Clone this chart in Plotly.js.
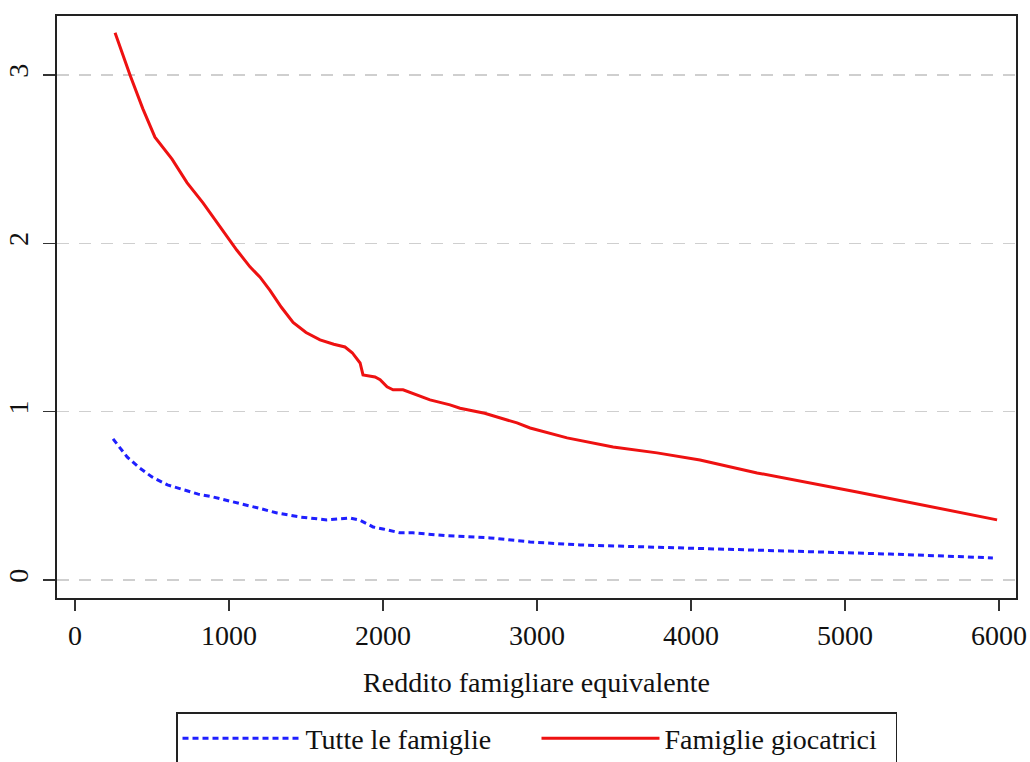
<!DOCTYPE html>
<html>
<head>
<meta charset="utf-8">
<script src="https://cdn.plot.ly/plotly-3.0.1.min.js"></script>
<style>html,body{margin:0;padding:0;background:#fff;}#chart{width:1030px;height:762px;}
.legendtext{font-family:"Liberation Serif", serif !important;}</style>
</head>
<body>
<div id="chart"></div>
<script>
// Tutte le famiglie (blue dashed)
const tutteX = [247, 338, 420, 500, 600, 701, 800, 896, 1000, 1117, 1200, 1312, 1461, 1636, 1786, 1850, 1935, 2000, 2110, 2195, 2416, 2695, 2955, 3279, 3714, 4039, 4643, 5292, 5960];
const tutteY = [0.838, 0.731, 0.665, 0.612, 0.565, 0.535, 0.51, 0.493, 0.47, 0.446, 0.425, 0.398, 0.374, 0.357, 0.368, 0.355, 0.315, 0.303, 0.28, 0.28, 0.263, 0.25, 0.226, 0.208, 0.196, 0.19, 0.172, 0.154, 0.131];
// Famiglie giocatrici (red solid)
const giocX = [260, 357, 440, 519, 630, 727, 831, 961, 1050, 1136, 1200, 1266, 1340, 1416, 1500, 1591, 1680, 1753, 1800, 1851, 1870, 1948, 1981, 2026, 2065, 2130, 2221, 2305, 2435, 2500, 2660, 2870, 2955, 3084, 3195, 3494, 3779, 4058, 4429, 5078, 5506, 5987];
const giocY = [3.25, 3.00, 2.80, 2.63, 2.50, 2.36, 2.24, 2.07, 1.96, 1.86, 1.80, 1.72, 1.62, 1.53, 1.47, 1.426, 1.40, 1.384, 1.35, 1.289, 1.218, 1.206, 1.19, 1.147, 1.13, 1.13, 1.099, 1.07, 1.04, 1.02, 0.99, 0.933, 0.903, 0.873, 0.844, 0.79, 0.755, 0.713, 0.636, 0.523, 0.446, 0.357];

const xTicks = [0, 1000, 2000, 3000, 4000, 5000, 6000];
const yTicks = [0, 1, 2, 3];
const names = ["Tutte le famiglie", "Famiglie giocatrici"];
const xTitle = "Reddito famigliare equivalente";

const fontFam = "Liberation Serif";

const traces = [
  {x: tutteX, y: tutteY, name: names[0], type: "scatter", mode: "lines",
   line: {color: "#1f1fff", width: 3, dash: "6px,4px"}},
  {x: giocX, y: giocY, name: names[1], type: "scatter", mode: "lines",
   line: {color: "#ee1111", width: 3}}
];

const layout = {
  width: 1030, height: 762,
  paper_bgcolor: "#fff", plot_bgcolor: "#fff",
  margin: {l: 57, r: 14, t: 16, b: 164, autoexpand: false},
  font: {family: fontFam, size: 28, color: "#111"},
  showlegend: true,
  legend: {orientation: "h", x: 0.5, xanchor: "center", y: -0.196, yanchor: "top",
           bordercolor: "#222", borderwidth: 1.5, bgcolor: "#fff",
           font: {family: fontFam, size: 28, color: "#111"},
           itemwidth: 118, entrywidth: 226, entrywidthmode: "pixels", tracegroupgap: 0},
  xaxis: {range: [-117, 6110], tickvals: xTicks, ticktext: xTicks.map(String),
          ticks: "outside", ticklen: 11, tickwidth: 1.5, tickcolor: "#333",
          showgrid: false, zeroline: false,
          showline: true, mirror: true, linecolor: "#222", linewidth: 2,
          tickfont: {family: fontFam, size: 28, color: "#111"},
          title: {text: xTitle, font: {family: fontFam, size: 28, color: "#111"}, standoff: 23},
          automargin: false},
  yaxis: {range: [-0.107, 3.35], tickvals: yTicks, ticktext: yTicks.map(String),
          ticks: "outside", ticklen: 12, tickwidth: 1.5, tickcolor: "#333",
          tickangle: -90, ticklabelstandoff: 4,
          showgrid: true, gridcolor: "#cfcfcf", gridwidth: 1.5, griddash: "12px,10px",
          zeroline: false,
          showline: true, mirror: true, linecolor: "#222", linewidth: 2,
          tickfont: {family: fontFam, size: 28, color: "#111"},
          automargin: false}
};

Plotly.newPlot("chart", traces, layout, {staticPlot: true, displayModeBar: false});
</script>
</body>
</html>
